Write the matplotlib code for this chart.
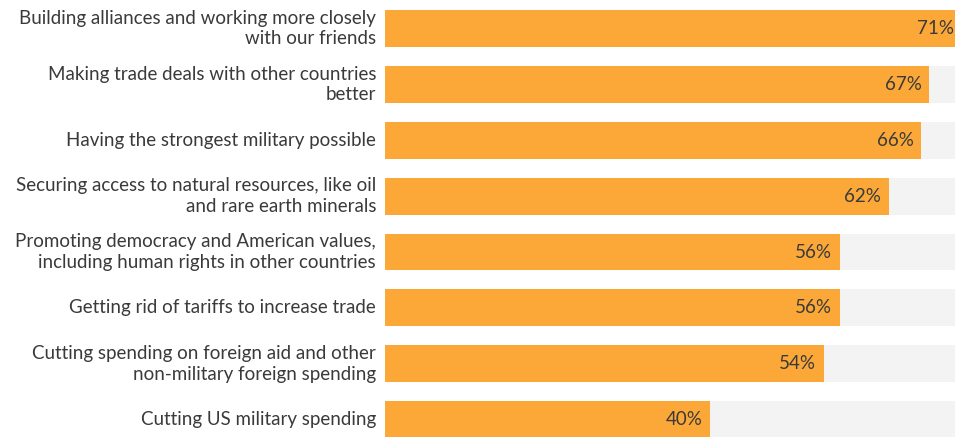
import matplotlib.pyplot as plt

# Survey results: share saying each priority matters
labels = [
    "Building alliances and working more closely\nwith our friends",
    "Making trade deals with other countries\nbetter",
    "Having the strongest military possible",
    "Securing access to natural resources, like oil\nand rare earth minerals",
    "Promoting democracy and American values,\nincluding human rights in other countries",
    "Getting rid of tariffs to increase trade",
    "Cutting spending on foreign aid and other\nnon-military foreign spending",
    "Cutting US military spending",
]
values = [71, 67, 66, 62, 56, 56, 54, 40]

plt.rcParams['font.family'] = ['Lato', 'DejaVu Sans']

fig = plt.figure(figsize=(9.55, 4.37), dpi=100)
ax = fig.add_axes([385 / 955, 0, 570 / 955, 1])

xmax = 70.15
y = list(range(len(values)))
bar_h = 0.66

# gray background track, then the orange bars
ax.barh(y, [xmax] * len(values), height=bar_h, color='#F3F3F3')
ax.barh(y, values, height=bar_h, color='#FCA838')

for yi, v in zip(y, values):
    ax.text(v - 0.95, yi, f"{v}%", ha='right', va='center',
            fontsize=13.5, color='#3a3a3a')

for yi, lab in zip(y, labels):
    ax.text(-1.1, yi, lab, ha='right', va='center', fontsize=13.5,
            color='#3a3a3a', linespacing=1.25)

ax.set_xlim(0, xmax)
ax.set_ylim(7.31, -0.51)
ax.axis('off')

fig.savefig('out.png', dpi=100)
